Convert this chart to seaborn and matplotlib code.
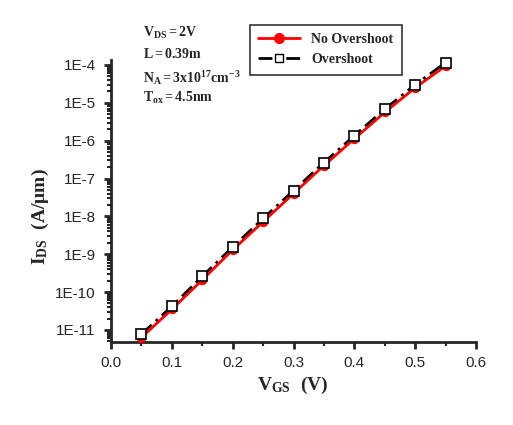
import numpy as np
import pandas as pd
import matplotlib
matplotlib.use("Agg")
import matplotlib.pyplot as plt
import seaborn as sns
from matplotlib.lines import Line2D
from matplotlib.ticker import FuncFormatter, LogLocator, MultipleLocator

# data
vgs = [0.05, 0.10, 0.15, 0.20, 0.25, 0.30, 0.35, 0.40, 0.45, 0.50, 0.55]
ids_no_overshoot = [6.3e-12, 3.5e-11, 2.1e-10, 1.3e-9, 7.2e-9, 4.0e-8,
                    2.2e-7, 1.12e-6, 5.6e-6, 2.5e-5, 9.4e-5]
ids_overshoot = [7.7e-12, 4.2e-11, 2.6e-10, 1.55e-9, 8.8e-9, 4.8e-8,
                 2.64e-7, 1.36e-6, 6.8e-6, 3.0e-5, 1.15e-4]
series_names = ["No Overshoot", "Overshoot"]
notes = [r"$\mathrm{V_{DS}=2V}$", r"$\mathrm{L=0.39m}$",
         r"$\mathrm{N_A=3x10^{17}cm^{-3}}$", r"$\mathrm{T_{ox}=4.5nm}$"]

sns.set_style("ticks")
plt.rcParams["font.family"] = ["Liberation Sans", "DejaVu Sans"]
plt.rcParams["mathtext.fontset"] = "custom"
plt.rcParams["mathtext.rm"] = "Liberation Serif:bold"
plt.rcParams["mathtext.it"] = "Liberation Serif:bold:italic"
plt.rcParams["mathtext.bf"] = "Liberation Serif:bold"

df_no = pd.DataFrame({"VGS": vgs, "IDS": ids_no_overshoot})
df_ov = pd.DataFrame({"VGS": vgs, "IDS": ids_overshoot})

fig = plt.figure(figsize=(5.13, 4.25), dpi=100)
ax = fig.add_axes([0.2164, 0.1953, 0.7115, 0.6635])

# black dash-dot line underneath
sns.lineplot(x="VGS", y="IDS", data=df_ov, ax=ax, color="black", lw=2,
             dashes=False, zorder=2)
ax.lines[-1].set_dashes((5, 2, 1, 2))
# red line with filled circles
sns.lineplot(x="VGS", y="IDS", data=df_no, ax=ax, color="red", lw=2,
             marker="o", markersize=6, markeredgecolor="red", zorder=3,
             clip_on=False)
# open squares on top
ax.plot(df_ov["VGS"], df_ov["IDS"], ls="none", marker="s", markersize=7,
        markerfacecolor="white", markeredgecolor="black", markeredgewidth=1.2,
        zorder=4, clip_on=False)

ax.set_yscale("log")
ax.set_xlim(0.0, 0.6)
ax.set_ylim(4.8e-12, 1.35e-4)
ax.xaxis.set_major_locator(MultipleLocator(0.1))
ax.xaxis.set_minor_locator(MultipleLocator(0.05))
ax.xaxis.set_major_formatter(FuncFormatter(lambda v, p: f"{v:.1f}"))
ax.yaxis.set_major_locator(LogLocator(base=10, numticks=20))
ax.yaxis.set_minor_locator(LogLocator(base=10, subs=np.arange(2, 10), numticks=20))
ax.yaxis.set_major_formatter(FuncFormatter(lambda v, p: f"1E{int(round(np.log10(v)))}"))
ax.tick_params(axis="both", which="major", direction="out", length=5, width=2,
               labelsize=11)
ax.tick_params(axis="y", which="major", pad=6)
ax.tick_params(axis="x", which="major", pad=5)
ax.tick_params(axis="both", which="minor", direction="out", length=3, width=1.5)
ax.set_xlabel("")
ax.set_ylabel("")
for s in ["top", "right"]:
    ax.spines[s].set_visible(False)
for s in ["left", "bottom"]:
    ax.spines[s].set_linewidth(2)

fig.text(293 / 513, 1 - 385 / 425, r"$\mathrm{V_{GS}\ \ (V)}$", fontsize=14,
         ha="center", va="center")
fig.text(40 / 513, 1 - 217 / 425, r"$\mathrm{I_{DS}\ \ (A/\mu m)}$", fontsize=14,
         ha="center", va="center", rotation=90)

for txt, yy in zip(notes, [33, 54, 78, 98]):
    fig.text(143 / 513, 1 - yy / 425, txt, fontsize=10, ha="left", va="center")

handles = [
    Line2D([], [], color="red", lw=2, marker="o", markersize=7,
           markeredgecolor="red"),
    Line2D([], [], color="black", lw=2, dashes=(5, 2, 1, 2), marker="s",
           markersize=6, markerfacecolor="white", markeredgecolor="black"),
]
leg = fig.legend(handles, series_names, loc="upper left",
                 bbox_to_anchor=(250 / 513, 1 - 25 / 425), frameon=True,
                 fancybox=False, edgecolor="black", handlelength=3,
                 borderpad=0.6, labelspacing=0.5, borderaxespad=0,
                 prop={"family": "Liberation Serif", "weight": "bold", "size": 10})
leg.get_frame().set_linewidth(1.2)

fig.savefig("out.png", dpi=100)
